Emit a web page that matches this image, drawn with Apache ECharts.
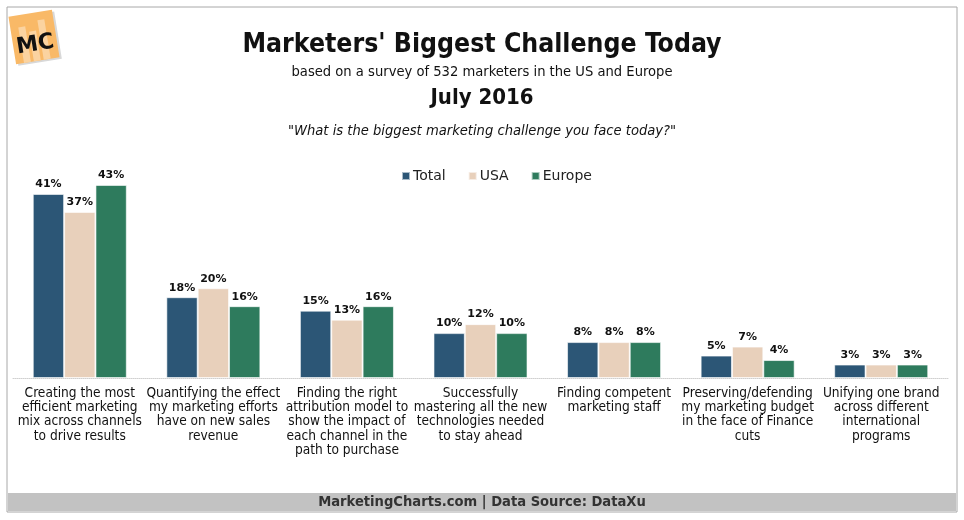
<!DOCTYPE html>
<html><head><meta charset="utf-8">
<script src="https://cdn.jsdelivr.net/npm/echarts@6/dist/echarts.min.js"></script>
<style>html,body{margin:0;padding:0;background:#fff}#c{width:964px;height:520px}</style>
</head><body><div id="c"></div>
<script>
const categories = [
  "Creating the most\nefficient marketing\nmix across channels\nto drive results",
  "Quantifying the effect\nmy marketing efforts\nhave on new sales\nrevenue",
  "Finding the right\nattribution model to\nshow the impact of\neach channel in the\npath to purchase",
  "Successfully\nmastering all the new\ntechnologies needed\nto stay ahead",
  "Finding competent\nmarketing staff",
  "Preserving/defending\nmy marketing budget\nin the face of Finance\ncuts",
  "Unifying one brand\nacross different\ninternational\nprograms"
];
const seriesNames = ["Total", "USA", "Europe"];
const totalValues = [41, 18, 15, 10, 8, 5, 3];
const usaValues = [37, 20, 13, 12, 8, 7, 3];
const europeValues = [43, 16, 16, 10, 8, 4, 3];
const colors = ["#2c5676", "#e8d0bb", "#2e7b5d"];

const chart = echarts.init(document.getElementById('c'));
const narrow = '"Liberation Sans Narrow", "DejaVu Sans Condensed", sans-serif';
const labelStyle = {show: true, position: 'top', distance: 4, formatter: '{c}%',
  fontFamily: 'DejaVu Sans', fontWeight: 'bold', fontSize: 11, color: '#111'};
function mk(name, data, i) {
  return {name: name, type: 'bar', data: data, barGap: '0%', barCategoryGap: '29.6%',
    itemStyle: {color: colors[i], borderColor: 'rgba(255,255,255,0.6)', borderWidth: 1},
    label: labelStyle, emphasis: {disabled: true}};
}
chart.setOption({
  animation: false,
  title: [
    {text: "Marketers' Biggest Challenge Today", left: 'center', top: 27,
      textStyle: {fontFamily: narrow, fontWeight: 'bold', fontSize: 26.4, color: '#111'}},
    {text: "based on a survey of 532 marketers in the US and Europe", left: 'center', top: 60,
      textStyle: {fontFamily: narrow, fontWeight: 'normal', fontSize: 14.6, color: '#111'}},
    {text: "July 2016", left: 'center', top: 82,
      textStyle: {fontFamily: narrow, fontWeight: 'bold', fontSize: 22, color: '#111'}},
    {text: "\"What is the biggest marketing challenge you face today?\"", left: 'center', top: 119,
      textStyle: {fontFamily: narrow, fontWeight: 'normal', fontStyle: 'italic', fontSize: 14.6, color: '#111'}}
  ],
  legend: {data: seriesNames, top: 164, left: 396, itemWidth: 8, itemHeight: 8, itemGap: 22,
    icon: 'rect', textStyle: {fontFamily: 'DejaVu Sans', fontSize: 14, color: '#222', padding: [0, 0, 0, -2]}},
  grid: {left: 13, right: 16, top: 176, bottom: 142, containLabel: false},
  xAxis: {type: 'category', data: categories,
    axisLine: {lineStyle: {color: '#d0d0d0', type: 'dotted'}}, axisTick: {show: false},
    axisLabel: {interval: 0, fontFamily: narrow, fontSize: 13.6, lineHeight: 14.3, color: '#111', margin: 8}},
  yAxis: {type: 'value', min: 0, max: 45, show: false, splitLine: {show: false}},
  series: [mk(seriesNames[0], totalValues, 0), mk(seriesNames[1], usaValues, 1), mk(seriesNames[2], europeValues, 2)],
  graphic: [
    {type: 'rect', shape: {x: 7, y: 7, width: 950, height: 505}, style: {fill: 'none', stroke: '#a8a8a8', lineWidth: 1}, z: 10},
    {type: 'rect', shape: {x: 8, y: 493, width: 948, height: 18}, style: {fill: '#c2c2c2'}, z: 9},
    {type: 'text', left: 'center', top: 495, style: {text: 'MarketingCharts.com | Data Source: DataXu',
      fontFamily: narrow, fontWeight: 'bold', fontSize: 14.6, fill: '#333'}, z: 11},
    {type: 'group', x: 34, y: 37, rotation: 0.16, z: 12, children: [
      {type: 'rect', shape: {x: -20, y: -22, width: 44, height: 48}, style: {fill: '#d8d8d8'}},
      {type: 'rect', shape: {x: -22, y: -24, width: 44, height: 48}, style: {fill: '#f9b967'}},
      {type: 'rect', shape: {x: -14, y: -12, width: 7, height: 36}, style: {fill: '#fbd3a0'}},
      {type: 'rect', shape: {x: -4, y: -6, width: 7, height: 30}, style: {fill: '#fbd3a0'}},
      {type: 'rect', shape: {x: 6, y: -16, width: 7, height: 40}, style: {fill: '#fbd3a0'}},
      {type: 'text', x: 0, y: 8, style: {text: 'MC', fontFamily: 'DejaVu Sans', fontWeight: 'bold', fontSize: 22,
        fill: '#111', align: 'center', verticalAlign: 'middle'}}
    ]}
  ]
});
</script></body></html>
